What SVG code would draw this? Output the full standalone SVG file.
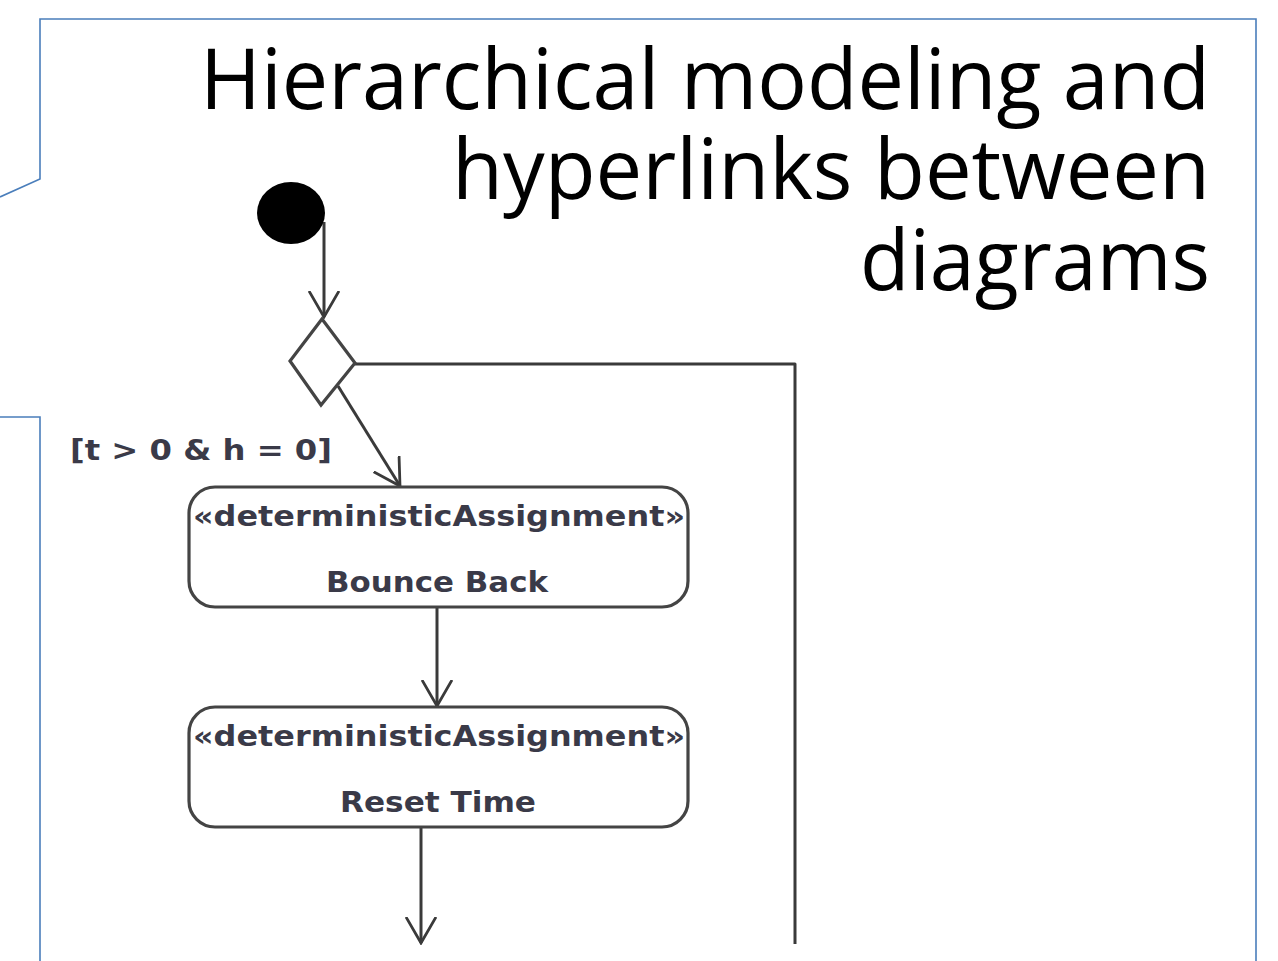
<svg xmlns="http://www.w3.org/2000/svg" width="1278" height="961" viewBox="0 0 1278 961">
  <style>
    .frame { fill: none; stroke: #4a7ebb; stroke-width: 1.6; }
    .title { font-family: "Open Sans", "Liberation Sans", sans-serif; font-size: 84px; fill: #000; text-anchor: end; }
    .edge { fill: none; stroke: #3a3a3a; stroke-width: 3; stroke-linejoin: round; }
    .node { fill: #fff; stroke: #444; stroke-width: 3.2; }
    .lbl { font-family: "DejaVu Sans", "Liberation Sans", sans-serif; font-size: 29px; fill: #3a3a48; text-anchor: middle; font-weight: bold; }
    .guard { font-family: "DejaVu Sans", "Liberation Sans", sans-serif; font-size: 29px; fill: #3a3a48; font-weight: bold; }
  </style>
  <defs>
    <marker id="open-arrow" viewBox="0 0 20 20" refX="18" refY="10" markerWidth="20" markerHeight="20" markerUnits="userSpaceOnUse" orient="auto">
      <path d="M0,0 L18,10 L0,20" fill="none" stroke="#3a3a3a" stroke-width="2.6"/>
    </marker>
    <marker id="open-arrow-lg" viewBox="0 0 28 32" refX="26" refY="16" markerWidth="28" markerHeight="32" markerUnits="userSpaceOnUse" orient="auto">
      <path d="M0,1 L26,16 L0,31" fill="none" stroke="#3a3a3a" stroke-width="2.8"/>
    </marker>
  </defs>

  <!-- slide callout frame -->
  <g id="frame">
    <path class="frame" d="M0,197 L40,179 L40,19 L1256,19 L1256,961"/>
    <path class="frame" d="M0,417 L40,417 L40,961"/>
  </g>

  <!-- heading -->
  <g id="heading">
    <text class="title" x="1210" y="109" textLength="1010" lengthAdjust="spacingAndGlyphs">Hierarchical modeling and</text>
    <text class="title" x="1210" y="199" textLength="758" lengthAdjust="spacingAndGlyphs">hyperlinks between</text>
    <text class="title" x="1210" y="290" textLength="350" lengthAdjust="spacingAndGlyphs">diagrams</text>
  </g>

  <!-- control flows -->
  <g id="connectors">
    <path class="edge" d="M324,222 L324,317" marker-end="url(#open-arrow-lg)"/>
    <path class="edge" d="M355,364 L795,364 L795,944"/>
    <path class="edge" d="M338,386 L400,486" marker-end="url(#open-arrow-lg)"/>
    <path class="edge" d="M437,608 L437,706" marker-end="url(#open-arrow-lg)"/>
    <path class="edge" d="M421,828 L421,943" marker-end="url(#open-arrow-lg)"/>
  </g>

  <g id="initial">
    <ellipse cx="291" cy="213" rx="34" ry="31" fill="#000"/>
  </g>

  <g id="decision">
    <path class="node" d="M322,319 L355,363 L321,405 L290,361 Z"/>
  </g>

  <g id="guard">
    <text class="guard" x="70" y="460" textLength="262" lengthAdjust="spacingAndGlyphs">[t &gt; 0 &amp; h = 0]</text>
  </g>

  <g id="bounce-back">
    <rect class="node" x="189" y="487" width="499" height="120" rx="26"/>
    <text class="lbl" x="439" y="526" textLength="492" lengthAdjust="spacingAndGlyphs">«deterministicAssignment»</text>
    <text class="lbl" x="437" y="592" textLength="222" lengthAdjust="spacingAndGlyphs">Bounce Back</text>
  </g>

  <g id="reset-time">
    <rect class="node" x="189" y="707" width="499" height="120" rx="26"/>
    <text class="lbl" x="439" y="746" textLength="492" lengthAdjust="spacingAndGlyphs">«deterministicAssignment»</text>
    <text class="lbl" x="438" y="812" textLength="196" lengthAdjust="spacingAndGlyphs">Reset Time</text>
  </g>
</svg>
